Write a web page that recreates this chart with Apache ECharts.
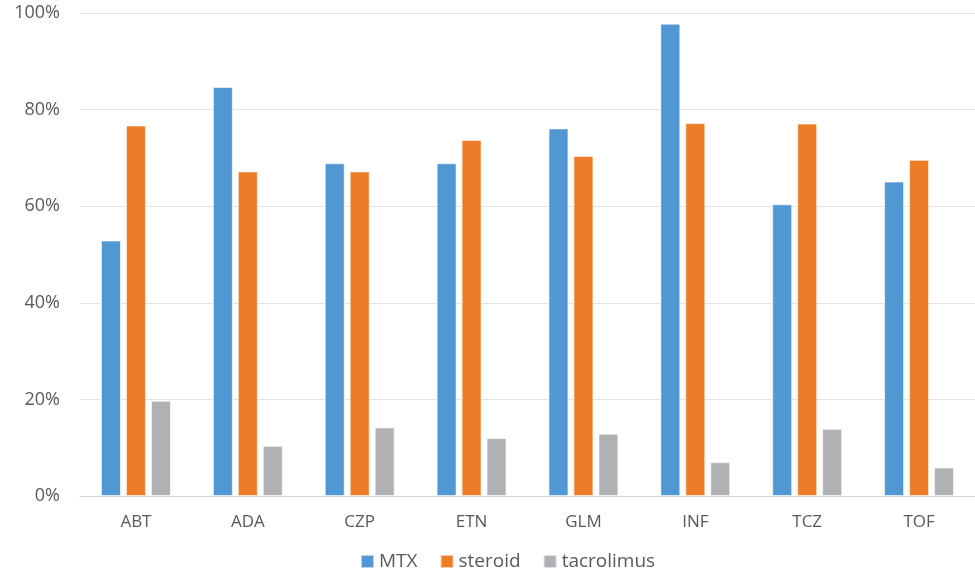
<!DOCTYPE html>
<html>
<head>
<meta charset="utf-8">
<script src="https://cdn.jsdelivr.net/npm/echarts@6/dist/echarts.min.js"></script>
<style>
  html, body { margin: 0; padding: 0; background: #fff; }
  #chart { width: 975px; height: 576px; }
</style>
</head>
<body>
<div id="chart"></div>
<script>
// Share of patients on each co-medication, by biologic / targeted drug
const categories = ['ABT', 'ADA', 'CZP', 'ETN', 'GLM', 'INF', 'TCZ', 'TOF'];
const mtx        = [52.9, 84.7, 68.9, 68.9, 76.1, 97.8, 60.4, 65.1];
const steroid    = [76.7, 67.2, 67.2, 73.7, 70.4, 77.2, 77.1, 69.6];
const tacrolimus = [19.7, 10.4, 14.2, 12.0, 12.9, 7.0, 13.9, 5.9];
const yTicks     = [0, 20, 40, 60, 80, 100];

const FONT = '"Open Sans", "Noto Sans", sans-serif';
const TEXT = '#595959';

const chart = echarts.init(document.getElementById('chart'));

function barSeries(name, data, color) {
  return {
    name: name,
    type: 'bar',
    data: data,
    barGap: '25%',
    barCategoryGap: '37.5%',
    itemStyle: { color: color, borderColor: 'rgba(255,255,255,0.6)', borderWidth: 1 }
  };
}

chart.setOption({
  animation: false,
  textStyle: { fontFamily: FONT },
  grid: { left: 80, right: 0, top: 13, bottom: 80, containLabel: false },
  legend: {
    bottom: 0,
    left: 355,
    itemWidth: 13,
    itemHeight: 13,
    itemGap: 22,
    icon: 'rect',
    textStyle: { color: TEXT, fontSize: 19, fontFamily: FONT },
    data: ['MTX', 'steroid', 'tacrolimus']
  },
  xAxis: {
    type: 'category',
    data: categories,
    axisLine: { lineStyle: { color: '#d9d9d9', width: 1 } },
    axisTick: { show: false },
    axisLabel: { color: TEXT, fontSize: 17, margin: 18, fontFamily: FONT }
  },
  yAxis: {
    type: 'value',
    min: yTicks[0],
    max: yTicks[yTicks.length - 1],
    interval: yTicks[1] - yTicks[0],
    axisLine: { show: false },
    axisTick: { show: false },
    splitLine: { lineStyle: { color: '#e3e3e3', width: 1 } },
    axisLabel: { color: TEXT, fontSize: 18, margin: 20, fontFamily: FONT, formatter: '{value}%' }
  },
  series: [
    barSeries('MTX', mtx, '#5097D4'),
    barSeries('steroid', steroid, '#EE7B26'),
    barSeries('tacrolimus', tacrolimus, '#B0B1B4')
  ]
});
</script>
</body>
</html>
